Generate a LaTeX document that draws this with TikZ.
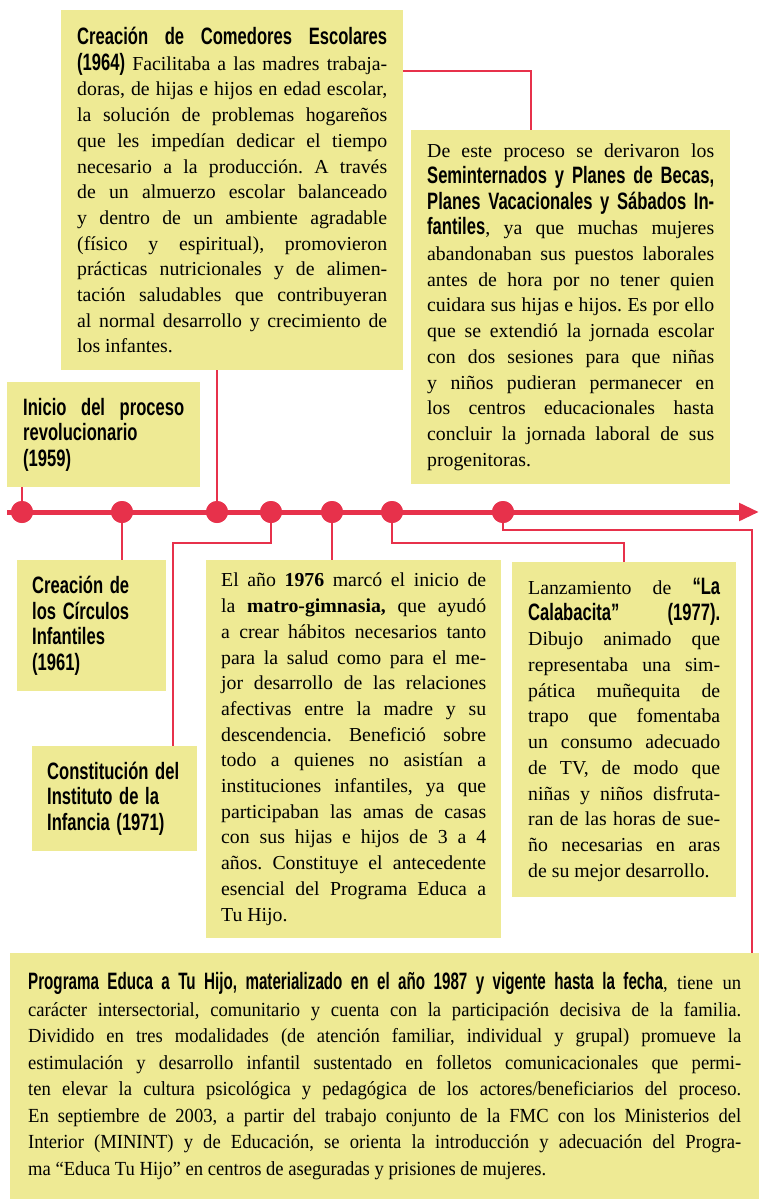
\documentclass[tikz,border=0pt]{standalone}
\usepackage{fontspec}
\setmainfont{Liberation Serif}
\newfontfamily\headfont[FakeStretch=0.70]{Liberation Sans}
\newfontfamily\headnarrow[FakeStretch=0.64]{Liberation Sans}
\newfontfamily\narrowserif[FakeStretch=0.93]{Liberation Serif}
\usetikzlibrary{arrows.meta,positioning,calc}
\definecolor{boxyellow}{RGB}{238,234,148}
\definecolor{lineRed}{RGB}{231,49,75}
\newcommand{\hd}[1]{{\headfont\bfseries\fontsize{23.7}{25.7}\selectfont #1}}
\newcommand{\hdn}[1]{{\headnarrow\bfseries\fontsize{23.7}{26.5}\selectfont #1}}
\frenchspacing

\begin{document}
\begin{tikzpicture}[x=1pt,y=-1pt,
  box/.style={fill=boxyellow, anchor=north west, align=justify, inner xsep=16pt,
    inner ysep=8pt, font=\fontsize{19.8}{25.7}\selectfont},
  link/.style={draw=lineRed, line width=2pt},
  timeline/.style={draw=lineRed, line width=5pt, -{Triangle[length=20pt,width=17pt]}},
  dot/.style={circle, fill=lineRed, minimum size=22pt, inner sep=0pt}]
  \useasboundingbox (0,0) rectangle (759,1199);

  \node[box, text width=310pt, minimum height=360pt] (comedores) at (61,10) {\hd{Creación de Comedores Escolares\linebreak (1964)} Facilitaba a las madres trabaja-\linebreak doras, de hijas e hijos en edad escolar,\linebreak la solución de problemas hogareños\linebreak que les impedían dedicar el tiempo\linebreak necesario a la producción. A través\linebreak de un almuerzo escolar balanceado\linebreak y dentro de un ambiente agradable\linebreak (físico y espiritual), promovieron\linebreak prácticas nutricionales y de alimen-\linebreak tación saludables que contribuyeran\linebreak al normal desarrollo y crecimiento de\linebreak los infantes.};
  \node[box, text width=287pt, minimum height=354pt] (seminternados) at (411,130) {De este proceso se derivaron los\linebreak \hd{Seminternados y Planes de Becas,\linebreak Planes Vacacionales y Sábados In-\linebreak fantiles}, ya que muchas mujeres\linebreak abandonaban sus puestos laborales\linebreak antes de hora por no tener quien\linebreak cuidara sus hijas e hijos. Es por ello\linebreak que se extendió la jornada escolar\linebreak con dos sesiones para que niñas\linebreak y niños pudieran permanecer en\linebreak los centros educacionales hasta\linebreak concluir la jornada laboral de sus\linebreak progenitoras.};
  \node[box, text width=161pt, minimum height=105pt] (inicio) at (7,382) {\hd{Inicio del proceso\linebreak revolucionario\\(1959)}};
  \node[box, align=left, inner xsep=15pt, text width=119pt, minimum height=131pt] (circulos) at (17,560) {\hd{Creación de\\los Círculos\\Infantiles\\(1961)}};
  \node[box, align=left, inner xsep=15pt, text width=135pt, minimum height=105pt] (instituto) at (32,746) {\hd{Constitución del\\Instituto de la\\Infancia (1971)}};
  \node[box, inner xsep=15pt, text width=265pt, minimum height=378pt] (matro) at (206,560) {El año \textbf{1976} marcó el inicio de\linebreak la \textbf{matro-gimnasia,} que ayudó\linebreak a crear hábitos necesarios tanto\linebreak para la salud como para el me-\linebreak jor desarrollo de las relaciones\linebreak afectivas entre la madre y su\linebreak descendencia. Benefició sobre\linebreak todo a quienes no asistían a\linebreak instituciones infantiles, ya que\linebreak participaban las amas de casas\linebreak con sus hijas e hijos de 3 a 4\linebreak años. Constituye el antecedente\linebreak esencial del Programa Educa a\linebreak Tu Hijo.};
  \node[box, text width=192pt, minimum height=335pt] (calabacita) at (512,562) {Lanzamiento de \hd{“La\linebreak Calabacita” (1977).}\linebreak Dibujo animado que\linebreak representaba una sim-\linebreak pática muñequita de\linebreak trapo que fomentaba\linebreak un consumo adecuado\linebreak de TV, de modo que\linebreak niñas y niños disfruta-\linebreak ran de las horas de sue-\linebreak ño necesarias en aras\linebreak de su mejor desarrollo.};
  \node[box, inner xsep=18pt, text width=713pt, minimum height=246pt,
    font=\narrowserif\fontsize{20}{26.5}\selectfont] (educa) at (10,953) {\hdn{Programa Educa a Tu Hijo, materializado en el año 1987 y vigente hasta la fecha}, tiene un\linebreak carácter intersectorial, comunitario y cuenta con la participación decisiva de la familia.\linebreak Dividido en tres modalidades (de atención familiar, individual y grupal) promueve la\linebreak estimulación y desarrollo infantil sustentado en folletos comunicacionales que permi-\linebreak ten elevar la cultura psicológica y pedagógica de los actores/beneficiarios del proceso.\linebreak En septiembre de 2003, a partir del trabajo conjunto de la FMC con los Ministerios del\linebreak Interior (MININT) y de Educación, se orienta la introducción y adecuación del Progra-\linebreak ma “Educa Tu Hijo” en centros de aseguradas y prisiones de mujeres.};

  \coordinate (start) at (7,512);
  \coordinate (end) at (759,512);
  \coordinate (kA) at (531,71);
  \coordinate (k4) at (173,543);
  \coordinate (k6) at (624,543);
  \coordinate (k7) at (752,530);
  \node[dot] (d1) at (22,512) {};
  \node[dot] (d2) at (122,512) {};
  \node[dot] (d3) at (217,512) {};
  \node[dot] (d4) at (271,512) {};
  \node[dot] (d5) at (332,512) {};
  \node[dot] (d6) at (392,512) {};
  \node[dot] (d7) at (503,512) {};

  \draw[link] (kA -| comedores.east) -- (kA) -- (kA |- seminternados.north);
  \draw[link] (d1.center) -- (d1 |- inicio.south);
  \draw[link] (d2.center) -- (d2 |- circulos.north);
  \draw[link] (d3.center) -- (d3 |- comedores.south);
  \draw[link] (d4.center) |- (k4) -- (k4 |- instituto.north);
  \draw[link] (d5.center) -- (d5 |- matro.north);
  \draw[link] (d6.center) |- (k6) -- (k6 |- calabacita.north);
  \draw[link] (d7.center) |- (k7) -- (k7 |- educa.north);
  \draw[timeline] (start) -- (end);
  \foreach \d in {d1,d2,d3,d4,d5,d6,d7}
    \node[dot] at (\d) {};
\end{tikzpicture}
\end{document}
